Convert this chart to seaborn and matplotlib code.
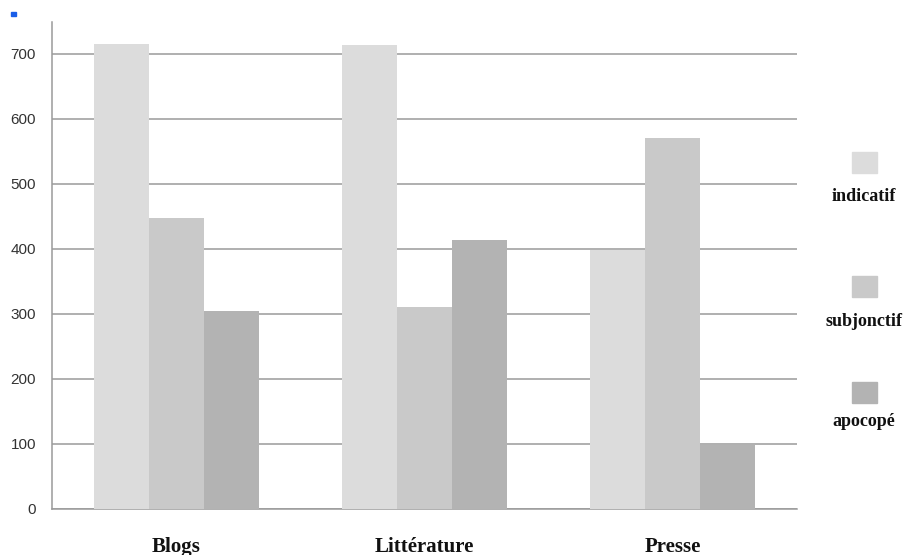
import pandas as pd
import matplotlib.pyplot as plt
import matplotlib.patches as mpatches
import seaborn as sns

# Données
categories = ['Blogs', 'Littérature', 'Presse']
series = ['indicatif', 'subjonctif', 'apocopé']
indicatif = [715, 714, 398]
subjonctif = [448, 311, 571]
apocope = [305, 414, 98]
yticks = [0, 100, 200, 300, 400, 500, 600, 700]

couleurs = ['#dcdcdc', '#c9c9c9', '#b3b3b3']
gris = '#9a9a9a'

df = pd.DataFrame({
    'cat': categories * 3,
    'serie': [s for s in series for _ in categories],
    'val': indicatif + subjonctif + apocope,
})

sns.set_style('white')
plt.rcParams['font.family'] = ['Liberation Sans', 'DejaVu Sans']

fig = plt.figure(figsize=(9.09, 5.55), dpi=100)
ax = fig.add_axes([52 / 909, 46 / 555, 745 / 909, 487 / 555])

sns.barplot(data=df, x='cat', y='val', hue='serie', palette=couleurs,
            width=0.665, gap=0, legend=False, ax=ax, saturation=1,
            linewidth=0, zorder=3)

ax.set_xlim(-0.5, 2.5)
ax.set_ylim(0, 749)
ax.set_yticks(yticks)
ax.set_yticklabels([str(t) for t in yticks], fontsize=11, color='#333333')
ax.yaxis.grid(True, color=gris, linewidth=1.1, zorder=0)
ax.set_axisbelow(True)
ax.tick_params(axis='y', length=5, color=gris, width=1.1, pad=6.5)
ax.tick_params(axis='x', length=0, pad=20)
ax.set_xticks(range(len(categories)))
ax.set_xticklabels(categories, fontsize=15, fontweight='bold',
                   family='Liberation Serif', color='#111111')
ax.set_xlabel('')
ax.set_ylabel('')
for s in ['top', 'right']:
    ax.spines[s].set_visible(False)
ax.spines['left'].set_color(gris)
ax.spines['left'].set_linewidth(1.1)
ax.spines['bottom'].set_color(gris)
ax.spines['bottom'].set_linewidth(1.1)

# légende à droite : carré au-dessus du libellé
pos_carre = [163, 287, 393]
pos_texte = [197, 321, 421]
for nom, c, yc, yt in zip(series, couleurs, pos_carre, pos_texte):
    fig.patches.append(mpatches.Rectangle((852 / 909, 1 - (yc + 10) / 555),
                                          25 / 909, 21 / 555, color=c,
                                          transform=fig.transFigure, figure=fig))
    fig.text(864 / 909, 1 - yt / 555, nom, ha='center', va='center',
             fontsize=13, fontweight='bold', family='Liberation Serif',
             color='#111111')

# petit repère bleu en haut à gauche
fig.patches.append(mpatches.Rectangle((11 / 909, 1 - 16 / 555), 5 / 909, 4 / 555,
                                      color='#1a5ee8', transform=fig.transFigure,
                                      figure=fig))

fig.savefig('out.png', dpi=100)
